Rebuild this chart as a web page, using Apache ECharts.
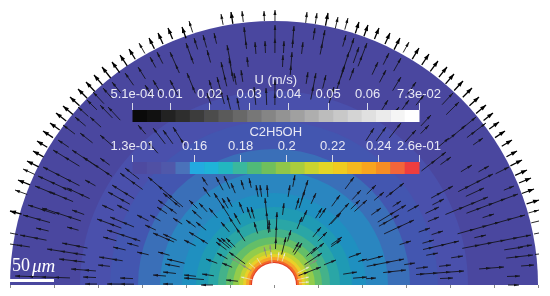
<!DOCTYPE html>
<html>
<head>
<meta charset="utf-8">
<title>U and C2H5OH field</title>
<style>
    html, body { margin: 0; padding: 0; background: #fff; }
    /* the reference is a soft scan, take the edge off */
    #chart { width: 550px; height: 296px; filter: blur(0.4px); }
</style>
<script src="https://cdn.jsdelivr.net/npm/echarts@6/dist/echarts.min.js"></script>
</head>
<body>
<div id="chart"></div>
<script>
// axis unit: 44 units = 50 um (one tick of the scale)
// bands are painted outside in, each one a full half disc over the previous one
var bandRadii = [264, 194, 164, 136, 114, 92, 78, 66, 56, 48, 41, 35, 31, 28, 25, 23, 22];
var bandColors = ['#4a479f', '#4a50ac', '#4356b0', '#3a6fb8', '#2a86c0', '#1f90c0', '#1f9ab4', '#2aa6a6', '#44b28a',
    '#64be68', '#93cc4b', '#c3d332', '#ead028', '#f6a52a', '#f2682a', '#e03a25', '#ffffff'];
var scaleBar = [-264, -220];

// arrows: [tipX, tipY, length]
var rimBold = [[-92, 258, 12], [-106, 257, 12], [-116, 252, 12], [-125, 247, 12], [-145, 236, 12], [-154, 230, 13], [-162, 223, 13],
    [-172, 218, 14], [-180, 210, 13], [-188, 203, 13], [-196, 196, 13], [-204, 188, 13], [-211, 179, 13], [-218, 172, 13],
    [-224, 162, 12], [-231, 154, 12], [-237, 144, 12], [-241, 134, 12], [-247, 124, 13], [-256, 105, 13], [-264, 74, 12],
    [-43, 273, 12], [54, 272, 13], [85, 263, 12], [94, 260, 12], [105, 257, 12], [116, 252, 12], [126, 247, 13], [145, 237, 13],
    [155, 231, 13], [164, 224, 13], [173, 218, 13], [180, 211, 13], [189, 204, 13], [198, 197, 13], [205, 188, 13], [212, 180, 13],
    [219, 172, 12], [225, 163, 12], [231, 154, 12], [238, 145, 12], [243, 134, 12], [248, 125, 13], [253, 115, 13], [257, 107, 13],
    [260, 96, 13], [265, 85, 13]];
var rimThin = [[-135, 242, 12], [-251, 116, 13], [-259, 95, 13], [-264, 52, 8], [-264, 41, 8], [-85, 264, 12], [-53, 271, 11],
    [-32, 274, 11], [-10, 274, 10], [1, 275, 11], [33, 273, 11], [43, 272, 11], [64, 268, 12], [74, 267, 12], [135, 243, 12],
    [265, 75, 11], [265, 64, 8], [265, 52, 5], [265, 31, 4]];
var innerArrows = [[-124, 228, 12], [-117, 233, 13], [-104, 233, 23], [-136, 218, 14], [-149, 212, 15], [-162, 203, 14], [-171, 197, 14],
    [-181, 193, 16], [-187, 185, 14], [-174, 180, 18], [-166, 178, 18], [-196, 178, 14], [-199, 168, 14], [-184, 168, 15], [-211, 160, 15],
    [-194, 152, 16], [-216, 145, 13], [-174, 150, 17], [-136, 160, 12], [-121, 157, 20], [-111, 155, 17], [-101, 158, 22], [-126, 143, 15],
    [-104, 205, 17], [-121, 205, 17], [-129, 200, 14],
    [-80, 247, 12], [-71, 250, 13], [-60, 252, 11], [-88, 242, 22], [-67, 235, 13], [-47, 240, 21], [-30, 258, 22], [-27, 228, 10],
    [-19, 243, 12], [-9, 244, 12], [1, 260, 28], [10, 244, 12], [9, 230, 12], [20, 259, 22], [18, 233, 23], [29, 243, 12], [41, 257, 12],
    [51, 255, 25], [72, 250, 12], [80, 247, 15], [85, 238, 17], [75, 233, 27], [80, 217, 13], [52, 210, 14], [42, 212, 27], [34, 213, 12],
    [-53, 223, 25], [-45, 227, 24], [-40, 212, 12], [-65, 205, 18], [-87, 212, 22], [-57, 208, 28], [-33, 215, 12], [-20, 198, 18],
    [-8, 197, 17], [1, 205, 25], [-37, 187, 12], [-47, 190, 15], [-67, 192, 12], [60, 198, 17], [70, 218, 23], [93, 242, 25],
    [104, 223, 14], [115, 232, 13], [127, 227, 15], [127, 208, 16], [112, 215, 14], [142, 203, 15], [179, 192, 16], [185, 183, 18],
    [157, 170, 15], [135, 185, 12], [150, 190, 13], [114, 185, 15], [125, 178, 12], [192, 160, 23], [202, 168, 20], [212, 162, 24],
    [209, 147, 12], [155, 160, 12], [175, 147, 14], [100, 157, 15], [112, 158, 17], [127, 162, 19], [142, 155, 16],
    [-221, 135, 31], [-202, 135, 29], [-231, 118, 41], [-236, 109, 37], [-239, 99, 22], [-224, 93, 25], [-207, 97, 25], [-189, 105, 12],
    [-174, 127, 12], [-191, 128, 35], [-154, 112, 28], [-149, 117, 18], [-162, 100, 26], [-166, 93, 25], [-172, 80, 13], [-157, 80, 13],
    [-126, 108, 46], [-116, 85, 23], [-111, 92, 22], [-117, 78, 12], [-246, 80, 29], [-232, 77, 41], [-251, 70, 28], [-202, 75, 13],
    [-177, 66, 26], [-164, 68, 26], [-137, 70, 13], [-124, 70, 12], [-129, 60, 12], [-207, 58, 12], [-238, 57, 13], [-167, 55, 35],
    [-171, 48, 14], [-147, 42, 12], [-161, 38, 13], [-137, 33, 12], [-254, 50, 27], [-212, 42, 26], [-227, 36, 39], [-257, 40, 13],
    [-215, 26, 26], [-175, 28, 24], [-176, 20, 12], [-203, 16, 25], [-259, 9, 55], [-191, 8, 13], [-154, 7, 13], [-189, 1, 12],
    [-167, 1, 27], [-121, 10, 13], [-111, 13, 13], [-109, 21, 15], [-107, 26, 18], [-116, 33, 12], [-121, 52, 23], [-111, 51, 15],
    [-101, 67, 11], [-111, 1, 10],
    [-72, 108, 10], [-58, 108, 15], [-50, 109, 14], [-71, 98, 12], [-43, 102, 11], [-33, 105, 10], [-25, 107, 10], [-18, 100, 12],
    [-14, 100, 12], [-7, 100, 12], [16, 100, 12], [21, 110, 12], [34, 105, 21], [31, 95, 19], [42, 92, 12], [-60, 92, 28], [-52, 87, 12],
    [-47, 88, 11], [-35, 83, 12], [-85, 85, 12], [-75, 82, 12], [-65, 77, 13], [-82, 75, 13], [-27, 78, 12], [-23, 78, 12], [-9, 87, 35],
    [10, 82, 12], [25, 87, 12], [33, 75, 13], [28, 68, 13], [66, 90, 14], [87, 95, 13], [93, 85, 17], [86, 85, 13], [80, 108, 15],
    [75, 82, 30], [67, 72, 15], [48, 77, 12], [52, 77, 12], [-88, 65, 12], [-78, 63, 13], [-53, 63, 13], [-45, 68, 29], [-40, 72, 13],
    [-20, 63, 12], [-5, 65, 12], [3, 73, 37], [47, 58, 13], [53, 53, 13], [68, 48, 13], [67, 45, 12], [17, 55, 12], [12, 48, 18],
    [-85, 53, 22], [-90, 45, 13], [-57, 47, 16], [-53, 47, 14], [-48, 47, 13], [-58, 43, 13], [-45, 33, 20], [-57, 32, 12], [-52, 22, 11],
    [-68, 26, 12], [25, 43, 12], [28, 42, 14], [50, 42, 17], [43, 38, 14], [48, 32, 21], [62, 25, 13], [47, 18, 24], [87, 32, 13],
    [93, 26, 9], [83, 13, 14], [93, 8, 14], [-90, 10, 12], [-90, 7, 20], [-72, 11, 12], [-48, 5, 12], [-73, 0, 12],
    [172, 133, 31], [177, 128, 13], [198, 120, 13], [215, 119, 12], [179, 99, 25], [170, 86, 13], [219, 111, 39], [235, 118, 15],
    [240, 99, 11], [210, 97, 20], [214, 88, 46], [244, 91, 55], [220, 71, 12], [145, 80, 13], [127, 84, 10], [132, 80, 33], [125, 70, 23],
    [107, 77, 12], [110, 93, 13], [130, 102, 23], [102, 100, 13], [140, 65, 33], [165, 78, 15], [165, 68, 12], [156, 57, 12], [169, 54, 12],
    [251, 70, 70], [212, 50, 12], [160, 45, 12], [185, 44, 37], [137, 44, 12], [257, 50, 70], [249, 38, 19], [258, 40, 12], [164, 32, 12],
    [189, 29, 12], [259, 30, 27], [109, 29, 17], [130, 26, 38], [141, 22, 11], [177, 20, 12], [132, 15, 23], [154, 18, 12], [190, 14, 48],
    [230, 18, 25], [260, 20, 13], [179, 7, 13], [102, 7, 10], [246, 9, 13], [245, 0, 11]];
var grayArrows = [[-10, 38, 10], [-4, 40, 12], [-43, 27, 24], [43, 25, 14]];
var paleArrows = [[-3, 33, 12], [5, 33, 9], [11, 32, 9], [-17, 27, 8], [-25, 22, 8], [-33, 8, 12], [35, 18, 13], [35, 8, 12], [35, 3, 10]];

// legends
var uMin = 0.00051, uMax = 0.073;
var uTicks = [0.00051, 0.01, 0.02, 0.03, 0.04, 0.05, 0.06, 0.073];
var uTickLabels = ['5.1e-04', '0.01', '0.02', '0.03', '0.04', '0.05', '0.06', '7.3e-02'];
var uColors = ['#0a0a0a', '#111111', '#222222', '#2e2e2e', '#3c3c3c', '#4c4c4c', '#5a5a5a', '#686868', '#777777', '#858585',
    '#939393', '#a0a0a0', '#aeaeae', '#bcbcbc', '#c8c8c8', '#d4d4d4', '#e0e0e0', '#ebebeb', '#f5f5f5', '#ffffff'];
var cMin = 0.133, cMax = 0.2575;
var cTicks = [0.133, 0.16, 0.18, 0.2, 0.22, 0.24, 0.2575];
var cTickLabels = ['1.3e-01', '0.16', '0.18', '0.2', '0.22', '0.24', '2.6e-01'];
var cColors = ['#4e4aa0', '#5050a4', '#5058aa', '#4a72ba', '#23aae0', '#1fb3d8', '#22b7c0', '#3ab89e', '#50ba78', '#70bf5c',
    '#90c64a', '#aacd3e', '#cad430', '#e4d625', '#f0cb20', '#f6b81f', '#f8a51f', '#f68d24', '#f2653a', '#ee3d3e'];

var textColor = '#e8e8f4';
var textFont = 'Liberation Sans';

function renderBand(params, api) {
    var center = api.coord([0, 0]);
    return {
        type: 'sector',
        shape: {
            cx: center[0],
            cy: center[1],
            r0: 0,
            r: api.size([api.value(0), 0])[0],
            startAngle: Math.PI,
            endAngle: Math.PI * 2
        },
        style: { fill: bandColors[params.dataIndex] }
    };
}

function arrowRender(color, width, headLen, headHalf) {
    return function(params, api) {
        var x = api.value(0), y = api.value(1), len = api.value(2);
        var a = Math.atan2(y, x), ca = Math.cos(a), sa = Math.sin(a);
        var tip = api.coord([x, y]);
        var tail = api.coord([x - len * ca, y - len * sa]);
        var children = [{
            type: 'line',
            shape: { x1: tail[0], y1: tail[1], x2: tip[0], y2: tip[1] },
            style: { stroke: color, lineWidth: width }
        }];
        // long runs in the picture are arrows end to end, so they carry a head every 13 units
        for (var d = 0; d < len - 8; d += 13) {
            var hx = x - d * ca, hy = y - d * sa;
            var bx = hx - headLen * ca, by = hy - headLen * sa;
            children.push({
                type: 'polygon',
                shape: { points: [api.coord([hx, hy]), api.coord([bx - headHalf * sa, by + headHalf * ca]), api.coord([bx + headHalf * sa, by - headHalf * ca])] },
                style: { fill: color }
            });
        }
        return { type: 'group', children: children };
    };
}

function arrowSeries(data, color, width, headLen, headHalf) {
    return {
        type: 'custom',
        xAxisIndex: 0,
        yAxisIndex: 0,
        z: 3,
        silent: true,
        data: data,
        renderItem: arrowRender(color, width, headLen, headHalf)
    };
}

function legendBar(axisIndex, colors, min, max) {
    return {
        type: 'custom',
        xAxisIndex: axisIndex,
        yAxisIndex: axisIndex,
        z: 5,
        silent: true,
        data: colors.map(function(c, i) { return [i]; }),
        renderItem: function(params, api) {
            var i = api.value(0), step = (max - min) / colors.length;
            var p0 = api.coord([min + i * step, 1]);
            var p1 = api.coord([min + (i + 1) * step, 0]);
            return {
                type: 'rect',
                shape: { x: p0[0], y: p0[1], width: p1[0] - p0[0] + 0.5, height: p1[1] - p0[1] },
                style: { fill: colors[i] }
            };
        }
    };
}

function legendAxis(gridIndex, name, min, max, ticks, labels) {
    return {
        type: 'value',
        gridIndex: gridIndex,
        position: 'top',
        z: 6,
        min: min,
        max: max,
        name: name,
        nameLocation: 'middle',
        nameGap: 14,
        nameTextStyle: { color: textColor, fontFamily: textFont, fontSize: 13 },
        axisLine: { show: false, onZero: false },
        splitLine: { show: false },
        axisTick: { length: 7, lineStyle: { color: '#d8d8e8', width: 1 }, customValues: ticks },
        axisLabel: {
            color: textColor,
            fontFamily: textFont,
            fontSize: 13,
            margin: 9,
            customValues: ticks,
            hideOverlap: false,
            showMinLabel: true,
            showMaxLabel: true,
            formatter: function(v) {
                // the scale may hand back a rounded value, take the closest tick
                var best = 0;
                ticks.forEach(function(t, i) {
                    if (Math.abs(t - v) < Math.abs(ticks[best] - v)) best = i;
                });
                return labels[best];
            }
        }
    };
}

var myChart = echarts.init(document.getElementById('chart'));

var option = {
    animation: false,
    backgroundColor: '#ffffff',
    grid: [
        { left: 10, right: 12, top: 21, bottom: 11 },
        { left: 132.5, width: 286.5, top: 110, height: 12 },
        { left: 132.5, width: 286.5, top: 162, height: 12 }
    ],
    xAxis: [{
        type: 'value',
        gridIndex: 0,
        min: -264,
        max: 264,
        interval: 44,
        axisLine: { show: false },
        splitLine: { show: false },
        axisLabel: { show: false },
        axisTick: { length: 3, lineStyle: { color: '#8a8a8a', width: 1 } }
    },
    legendAxis(1, 'U (m/s)', uMin, uMax, uTicks, uTickLabels),
    legendAxis(2, 'C2H5OH', cMin, cMax, cTicks, cTickLabels)],
    yAxis: [
        { type: 'value', gridIndex: 0, min: 0, max: 264, interval: 44, show: false },
        { type: 'value', gridIndex: 1, min: 0, max: 1, show: false },
        { type: 'value', gridIndex: 2, min: 0, max: 1, show: false }
    ],
    series: [{
        type: 'custom',
        xAxisIndex: 0,
        yAxisIndex: 0,
        z: 1,
        silent: true,
        data: bandRadii.map(function(r) { return [r]; }),
        renderItem: renderBand
    },
    arrowSeries(innerArrows, '#15151f', 0.9, 5, 1.3),
    arrowSeries(grayArrows, '#8a8a80', 0.8, 4, 1.1),
    arrowSeries(paleArrows, '#e8e8d8', 0.7, 3, 0.9),
    arrowSeries(rimThin, '#111111', 0.9, 5, 1.5),
    arrowSeries(rimBold, '#000000', 1.3, 6, 2.1),
    legendBar(1, uColors, uMin, uMax),
    legendBar(2, cColors, cMin, cMax),
    {
        type: 'custom',
        xAxisIndex: 0,
        yAxisIndex: 0,
        z: 5,
        silent: true,
        data: [scaleBar],
        renderItem: function(params, api) {
            var p0 = api.coord([api.value(0), 6]);
            var p1 = api.coord([api.value(1), 3]);
            return {
                type: 'group',
                children: [{
                    type: 'rect',
                    shape: { x: p0[0], y: p0[1], width: p1[0] - p0[0], height: p1[1] - p0[1] },
                    style: { fill: '#ffffff' }
                }, {
                    type: 'text',
                    x: p0[0] + 2,
                    y: p0[1] - 3,
                    style: {
                        text: '{a|50}{b|μm}',
                        textVerticalAlign: 'bottom',
                        rich: {
                            a: { fontFamily: 'Liberation Serif', fontSize: 18, fill: '#ffffff', padding: [0, 2, 0, 0] },
                            b: { fontFamily: 'Liberation Serif', fontStyle: 'italic', fontSize: 19, fill: '#ffffff' }
                        }
                    }
                }]
            };
        }
    }]
};

myChart.setOption(option);
</script>
</body>
</html>
